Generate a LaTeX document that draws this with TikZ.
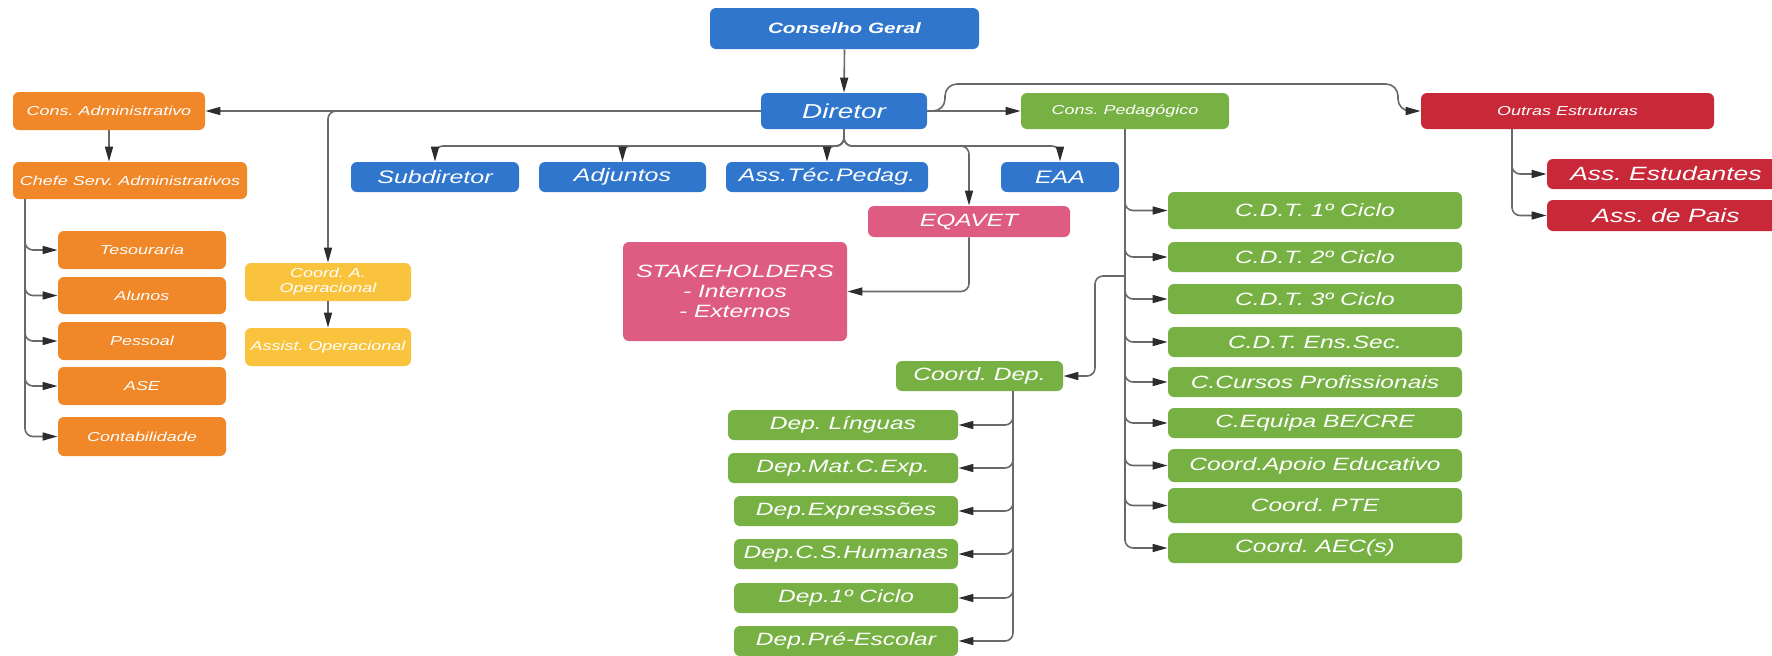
\documentclass[tikz,border=0pt]{standalone}
\usepackage{fontspec}
\setmainfont{Liberation Sans}[FakeStretch=1.38]
\usetikzlibrary{arrows.meta}
\definecolor{cblue}{RGB}{47,118,204}
\definecolor{corange}{RGB}{240,135,40}
\definecolor{cyellow}{RGB}{250,195,62}
\definecolor{cpink}{RGB}{222,92,130}
\definecolor{cgreen}{RGB}{119,177,68}
\definecolor{cred}{RGB}{200,40,56}
\definecolor{cline}{RGB}{105,105,105}
\definecolor{carrow}{RGB}{45,45,45}
\begin{document}
\frenchspacing
\begin{tikzpicture}[x=0.5pt,y=-0.5pt,
  box/.style={rounded corners=3pt, text=white, inner sep=0pt, align=center},
  sz/.style 2 args={minimum width=#1*0.5pt, minimum height=#2*0.5pt},
  fsmall/.style={font=\fontsize{6.5}{7.5}\selectfont\itshape},
  fbig/.style={font=\fontsize{8.9}{10}\selectfont\itshape},
  fblue/.style={font=\fontsize{9.05}{10}\selectfont\itshape},
  fred/.style={font=\fontsize{9.6}{11}\selectfont\itshape},
  arr/.style={draw=cline, line width=0.8pt, rounded corners=4pt,
    -{Triangle[length=7.5pt,width=4pt,color=carrow]}}]
\useasboundingbox (0,0) rectangle (1772,655);
\clip (0,0) rectangle (1772,655);
% blue
\node[box, fill=cblue, sz={269}{41}, font=\fontsize{7.5}{9}\selectfont\bfseries\itshape] (cg) at (844.5,28.5) {Conselho Geral};
\node[box, fill=cblue, sz={166}{36}, font=\fontsize{10.1}{12}\selectfont\itshape] (dir) at (844,111) {Diretor};
\node[box, fill=cblue, sz={168}{30}, fblue] (sub) at (435,177) {Subdiretor};
\node[box, fill=cblue, sz={167}{30}, fblue] (adj) at (622.5,177) {Adjuntos};
\node[box, fill=cblue, sz={202}{30}, fblue] (atp) at (827,177) {Ass.Téc.Pedag.};
\node[box, fill=cblue, sz={118}{30}, fblue] (eaa) at (1060,177) {EAA};
% pink
\node[box, fill=cpink, sz={202}{31}, fbig] (eqa) at (969,221.5) {EQAVET};
\node[box, fill=cpink, sz={224}{99}, fbig] (stk) at (735,291.5) {STAKEHOLDERS\\- Internos\\- Externos};
% orange
\node[box, fill=corange, sz={192}{38}, fsmall] (ca) at (109,111) {Cons. Administrativo};
\node[box, fill=corange, sz={234}{37}, fsmall] (csa) at (130,180.5) {Chefe Serv. Administrativos};
\node[box, fill=corange, sz={168}{38}, fsmall] (tes) at (142,250) {Tesouraria};
\node[box, fill=corange, sz={168}{37}, fsmall] (alu) at (142,295.5) {Alunos};
\node[box, fill=corange, sz={168}{38}, fsmall] (pes) at (142,341) {Pessoal};
\node[box, fill=corange, sz={168}{38}, fsmall] (ase) at (142,386) {ASE};
\node[box, fill=corange, sz={168}{39}, fsmall] (con) at (142,436.5) {Contabilidade};
% yellow
\node[box, fill=cyellow, sz={166}{38}, fsmall] (cao) at (328,282) {Coord. A.\\Operacional};
\node[box, fill=cyellow, sz={166}{38}, fsmall] (aso) at (328,347) {Assist. Operacional};
% green
\node[box, fill=cgreen, sz={208}{36}, fsmall] (cp) at (1125,111) {Cons. Pedagógico};
\node[box, fill=cgreen, sz={167}{30}, fbig] (cd) at (979.5,376) {Coord. Dep.};
\node[box, fill=cgreen, sz={230}{30}, fbig] (d1) at (843,425) {Dep. Línguas};
\node[box, fill=cgreen, sz={230}{30}, fbig] (d2) at (843,468) {Dep.Mat.C.Exp.};
\node[box, fill=cgreen, sz={224}{30}, fbig] (d3) at (846,511) {Dep.Expressões};
\node[box, fill=cgreen, sz={224}{30}, fbig] (d4) at (846,554) {Dep.C.S.Humanas};
\node[box, fill=cgreen, sz={224}{30}, fbig] (d5) at (846,598) {Dep.1º Ciclo};
\node[box, fill=cgreen, sz={224}{30}, fbig] (d6) at (846,641) {Dep.Pré-Escolar};
\node[box, fill=cgreen, sz={294}{37}, fbig] (c1) at (1315,210.5) {C.D.T. 1º Ciclo};
\node[box, fill=cgreen, sz={294}{30}, fbig] (c2) at (1315,257) {C.D.T. 2º Ciclo};
\node[box, fill=cgreen, sz={294}{30}, fbig] (c3) at (1315,299) {C.D.T. 3º Ciclo};
\node[box, fill=cgreen, sz={294}{30}, fbig] (c4) at (1315,342) {C.D.T. Ens.Sec.};
\node[box, fill=cgreen, sz={294}{30}, fbig] (c5) at (1315,382) {C.Cursos Profissionais};
\node[box, fill=cgreen, sz={294}{30}, fbig] (c6) at (1315,423) {C.Equipa BE/CRE};
\node[box, fill=cgreen, sz={294}{33}, fbig] (c7) at (1315,465.5) {Coord.Apoio Educativo};
\node[box, fill=cgreen, sz={294}{35}, fbig] (c8) at (1315,505.5) {Coord. PTE};
\node[box, fill=cgreen, sz={294}{30}, fbig] (c9) at (1315,548) {Coord. AEC(s)};
% red
\node[box, fill=cred, sz={293}{36}, fsmall] (oe) at (1567.5,111) {Outras Estruturas};
\node[box, fill=cred, sz={238}{30}, fred] (ae) at (1666,174) {Ass. Estudantes};
\node[box, fill=cred, sz={238}{31}, fred] (ap) at (1666,215.5) {Ass. de Pais};
% coordinates
\coordinate (bus) at (844,146);
\coordinate (ob1) at (945,111);
\coordinate (ob2) at (1398,84);
\coordinate (csaL) at (25,199);
\coordinate (oeL) at (1512,129);
\coordinate (cpj) at (1125,276);
\coordinate (cdk) at (1095,276);
\coordinate (cdL) at (1013,391);
% connectors
\draw[arr] (cg.south) -- (dir.north);
\draw[arr] (dir.west) -- (ca.east);
\draw[arr] (dir.west) -| (cao.north);
\draw[arr] (cao.south) -- (aso.north);
\draw[arr] (ca.south) -- (ca.south |- csa.north);
\foreach \t in {tes,alu,pes,ase,con} \draw[arr] (csaL) |- (\t.west);
\foreach \t in {sub,adj,atp,eqa,eaa} \draw[arr] (dir.south) -- (bus) -| (\t.north);
\draw[arr] (eqa.south) |- (stk.east);
\draw[arr] (dir.east) -- (cp.west);
\draw[arr, rounded corners=6pt] (dir.east) -- (ob1) |- (ob2) |- (oe.west);
\foreach \t in {c1,c2,c3,c4,c5,c6,c7,c8,c9} \draw[arr] (cp.south) |- (\t.west);
\draw[arr] (cpj) -- (cdk) |- (cd.east);
\foreach \t in {d1,d2,d3,d4,d5,d6} \draw[arr] (cdL) |- (\t.east);
\draw[arr] (oeL) |- (ae.west);
\draw[arr] (oeL) |- (ap.west);
\end{tikzpicture}
\end{document}
